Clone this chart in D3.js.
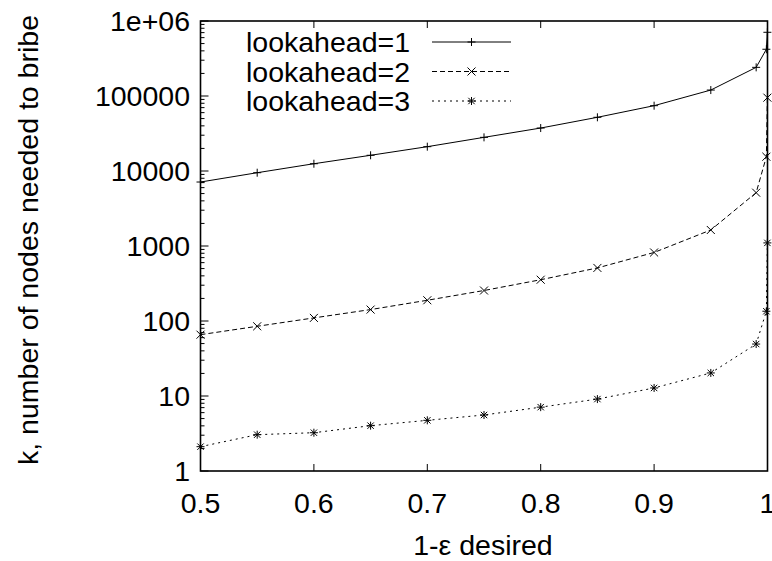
<!DOCTYPE html>
<html>
<head>
<meta charset="utf-8">
<script src="https://cdn.jsdelivr.net/npm/d3@7"></script>
<style>
  html, body { margin: 0; padding: 0; background: #fff; }
  svg { display: block; }
  text { font-family: "Liberation Sans", Arial, Helvetica, sans-serif; fill: #000; }
</style>
</head>
<body>
<svg id="chart" width="772" height="561"></svg>
<script>
// ---- data ----
const xValues = [0.5, 0.55, 0.6, 0.65, 0.7, 0.75, 0.8, 0.85, 0.9, 0.95, 0.99, 0.999, 0.9999];
const lookahead1 = [7130, 9490, 12500, 16200, 21100, 28100, 37400, 52000, 74300, 120000, 241000, 420000, 707000];
const lookahead2 = [65.7, 85, 110, 142, 189, 255, 355, 510, 820, 1635, 5140, 15500, 95000];
const lookahead3 = [2.11, 3.05, 3.24, 4.02, 4.74, 5.58, 7.1, 9.1, 12.8, 20.3, 49.3, 135, 1100];
const seriesNames = ["lookahead=1", "lookahead=2", "lookahead=3"];
const xTicks = [0.5, 0.6, 0.7, 0.8, 0.9, 1];
const xTickLabels = ["0.5", "0.6", "0.7", "0.8", "0.9", "1"];
const yTicks = [1, 10, 100, 1000, 10000, 100000, 1000000];
const yTickLabels = ["1", "10", "100", "1000", "10000", "100000", "1e+06"];
const xTitle = "1-\u03B5 desired";
const yTitle = "k, number of nodes needed to bribe";

// ---- layout ----
const L = 200.5, R = 767.5, T = 21, B = 471;
const svg = d3.select("#chart");
const x = d3.scaleLinear().domain([0.5, 1]).range([L, R]);
const y = d3.scaleLog().domain([1, 1e6]).range([B, T]);
const FS = 28.5;

// minor ticks for y (log)
const minorY = [];
for (let d = 1; d < 1e6; d *= 10) for (let k = 2; k <= 9; k++) minorY.push(d * k);

const g = svg.append("g");
g.selectAll(".ymaj").data(yTicks).enter().append("line")
  .attr("x1", L).attr("x2", L + 8)
  .attr("y1", d => y(d)).attr("y2", d => y(d))
  .attr("stroke", "#000").attr("stroke-width", 1);
g.selectAll(".ymin").data(minorY).enter().append("line")
  .attr("x1", L).attr("x2", L + 4)
  .attr("y1", d => y(d)).attr("y2", d => y(d))
  .attr("stroke", "#000").attr("stroke-width", 1);
g.selectAll(".xb").data(xTicks).enter().append("line")
  .attr("x1", d => x(d)).attr("x2", d => x(d))
  .attr("y1", B).attr("y2", B - 7)
  .attr("stroke", "#000").attr("stroke-width", 1);
g.selectAll(".xt").data(xTicks).enter().append("line")
  .attr("x1", d => x(d)).attr("x2", d => x(d))
  .attr("y1", T).attr("y2", T + 7)
  .attr("stroke", "#000").attr("stroke-width", 1);

// tick labels
g.selectAll(".yl").data(yTicks).enter().append("text")
  .attr("x", 190).attr("y", d => y(d))
  .attr("dy", "0.36em")
  .attr("text-anchor", "end").attr("font-size", FS)
  .text((d, i) => yTickLabels[i]);
g.selectAll(".xl").data(xTicks).enter().append("text")
  .attr("x", d => x(d)).attr("y", 513)
  .attr("text-anchor", "middle").attr("font-size", FS)
  .text((d, i) => xTickLabels[i]);

// axis titles
svg.append("text").attr("x", 483).attr("y", 555)
  .attr("text-anchor", "middle").attr("font-size", FS).text(xTitle);
svg.append("text")
  .attr("transform", "translate(38," + 240 + ") rotate(-90)")
  .attr("text-anchor", "middle").attr("font-size", FS).text(yTitle);

// series
const series = [
  { name: seriesNames[0], vals: lookahead1, dash: null, marker: "plus" },
  { name: seriesNames[1], vals: lookahead2, dash: "5,3", marker: "cross" },
  { name: seriesNames[2], vals: lookahead3, dash: "2,4", marker: "star" }
];
const line = d3.line().x(d => x(d[0])).y(d => y(d[1]));

function drawMarker(sel, type, cx, cy) {
  const s = 4;
  const p = [];
  if (type === "plus" || type === "star") {
    p.push(`M${cx - s},${cy}L${cx + s},${cy}M${cx},${cy - s}L${cx},${cy + s}`);
  }
  if (type === "cross" || type === "star") {
    const c = type === "star" ? 3.2 : 4;
    p.push(`M${cx - c},${cy - c}L${cx + c},${cy + c}M${cx - c},${cy + c}L${cx + c},${cy - c}`);
  }
  sel.append("path").attr("d", p.join("")).attr("stroke", "#000")
    .attr("stroke-width", 1).attr("fill", "none");
}

const legendY = [42, 71.5, 101];
series.forEach((s, i) => {
  const pts = xValues.map((xv, j) => [xv, s.vals[j]]);
  const sg = svg.append("g");
  sg.append("path").datum(pts).attr("d", line)
    .attr("fill", "none").attr("stroke", "#000").attr("stroke-width", 1)
    .attr("stroke-dasharray", s.dash);
  pts.forEach(p => drawMarker(sg, s.marker, x(p[0]), y(p[1])));
  svg.append("text").attr("x", 410).attr("y", legendY[i]).attr("dy", "0.36em")
    .attr("text-anchor", "end").attr("font-size", FS).text(s.name);
  svg.append("line").attr("x1", 432).attr("x2", 511)
    .attr("y1", legendY[i]).attr("y2", legendY[i])
    .attr("stroke", "#000").attr("stroke-width", 1).attr("stroke-dasharray", s.dash);
  drawMarker(svg, s.marker, 471.5, legendY[i]);
});

// border
svg.append("rect").attr("x", L).attr("y", T).attr("width", R - L).attr("height", B - T)
  .attr("fill", "none").attr("stroke", "#000").attr("stroke-width", 1.6);
</script>
</body>
</html>
